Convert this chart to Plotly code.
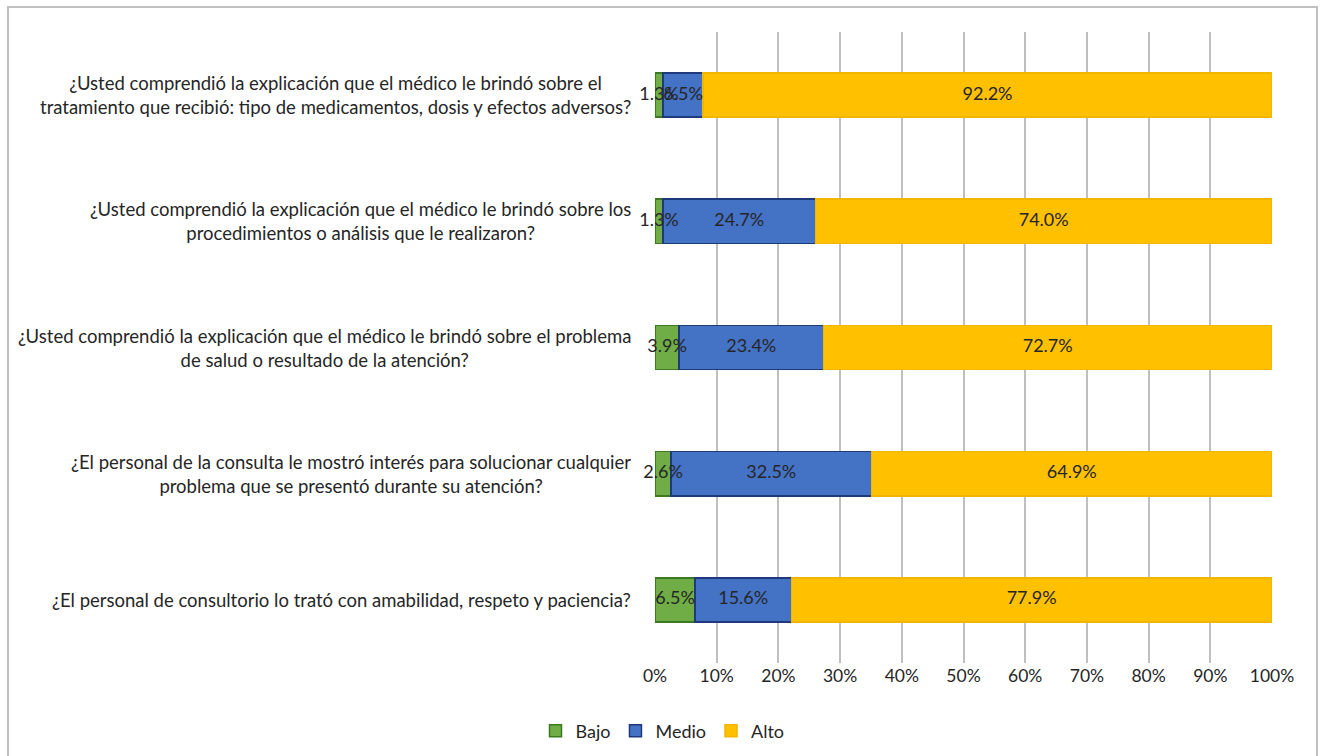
import plotly.graph_objects as go

questions = [
    "¿Usted comprendió la explicación que el médico le brindó sobre el<br>tratamiento que recibió: tipo de medicamentos, dosis y efectos adversos?",
    "¿Usted comprendió la explicación que el médico le brindó sobre los<br>procedimientos o análisis que le realizaron?",
    "¿Usted comprendió la explicación que el médico le brindó sobre el problema<br>de salud o resultado de la atención?",
    "¿El personal de la consulta le mostró interés para solucionar cualquier<br>problema que se presentó durante su atención?",
    "¿El personal de consultorio lo trató con amabilidad, respeto y paciencia?",
]
bajo = [1.3, 1.3, 3.9, 2.6, 6.5]
medio = [6.5, 24.7, 23.4, 32.5, 15.6]
alto = [92.2, 74.0, 72.7, 64.9, 77.9]

series = [
    ("Bajo", bajo, "#70AD47", "#3B7A1E"),
    ("Medio", medio, "#4472C4", "#1F3A7A"),
    ("Alto", alto, "#FFC000", "#F2B600"),
]

W, H = 1325, 756
ml, mr, mt, mb = 655, 53, 32, 93
FONT = "Lato"
TXT = "#262626"

fig = go.Figure()
base = [0.0] * len(questions)
label_x, label_y, label_t = [], [], []
for name, vals, col, line in series:
    fig.add_trace(go.Bar(
        y=questions, x=vals, name=name, orientation="h",
        marker=dict(color=col, line=dict(color=line, width=1.5)),
        hoverinfo="skip",
    ))
    for i, v in enumerate(vals):
        label_x.append(base[i] + v / 2)
        label_y.append(questions[i])
        label_t.append(f"{v:.1f}%")
        base[i] += v

fig.add_trace(go.Scatter(
    x=label_x, y=label_y, text=label_t, mode="text",
    textposition="middle center", showlegend=False, hoverinfo="skip",
    textfont=dict(family=FONT, size=18, color=TXT), cliponaxis=False,
))

for q in questions:
    fig.add_annotation(
        x=0, xref="paper", y=q, yref="y", text=q, showarrow=False,
        xanchor="right", yanchor="middle", align="center", xshift=-22,
        font=dict(family=FONT, size=18.5, color=TXT),
    )

pw, ph = W - ml - mr, H - mt - mb
fig.add_shape(
    type="rect", xref="paper", yref="paper",
    x0=(8 - ml) / pw, x1=(1317 - ml) / pw,
    y0=-(H + 10 - mt - ph) / ph, y1=1 + (mt - 7) / ph,
    line=dict(color="#C0C0C0", width=2), fillcolor="rgba(0,0,0,0)", layer="below",
)

fig.update_layout(
    width=W, height=H, barmode="stack", bargap=0.65,
    margin=dict(l=ml, r=mr, t=mt, b=mb),
    paper_bgcolor="white", plot_bgcolor="white",
    font=dict(family=FONT, size=18, color=TXT),
    showlegend=True,
    legend=dict(orientation="h", xref="container", x=0.5, xanchor="center",
                yref="container", y=0.033, yanchor="middle",
                font=dict(family=FONT, size=18, color=TXT),
                traceorder="normal", itemwidth=30),
    xaxis=dict(range=[0, 100], tickvals=list(range(0, 101, 10)),
               ticktext=[f"{v}%" for v in range(0, 101, 10)],
               showgrid=True, gridcolor="#BFBFBF", gridwidth=1.5,
               zeroline=False, showline=False, ticks="",
               tickfont=dict(family=FONT, size=17.5, color=TXT)),
    yaxis=dict(autorange="reversed", showticklabels=False, showgrid=False,
               zeroline=False, showline=False, ticks=""),
)

fig.write_html("out.html")
